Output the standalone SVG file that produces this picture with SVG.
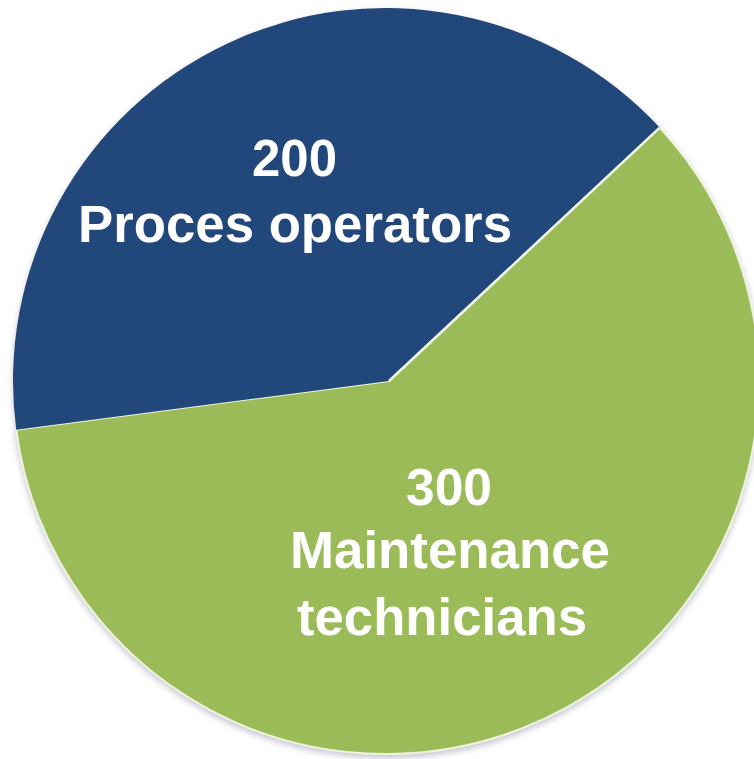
<svg xmlns="http://www.w3.org/2000/svg" width="754" height="759" viewBox="0 0 754 759">
  <defs>
    <filter id="shadow" x="-10%" y="-10%" width="120%" height="120%">
      <feDropShadow dx="0" dy="3" stdDeviation="3" flood-color="#7a7f99" flood-opacity="0.45"/>
    </filter>
  </defs>
  <style>
    .lbl { font-family: "Liberation Sans", Arial, sans-serif; font-weight: bold; font-size: 51px; fill: #ffffff; }
  </style>
  <rect width="754" height="759" fill="#ffffff"/>
  <g id="pie" filter="url(#shadow)">
    <g id="maintenance">
      <path d="M 389 381 L 659.7 127.6 A 373 373 0 1 1 16.2 429.7 Z" fill="#9BBB59" stroke="#eef4dc" stroke-width="2"/>
    </g>
    <g id="operators">
      <path d="M 389 381 L 16.2 429.7 A 373 373 0 0 1 659.7 127.6 Z" fill="#22477A"/>
    </g>
  </g>
  <g id="connectors">
    <line x1="389" y1="381" x2="659.7" y2="127.6" stroke="#f2f6e6" stroke-width="2.5"/>
  </g>
  <g id="labels">
    <text class="lbl" x="252" y="176" textLength="85" lengthAdjust="spacingAndGlyphs">200</text>
    <text class="lbl" x="78" y="242" textLength="434" lengthAdjust="spacingAndGlyphs">Proces operators</text>
    <text class="lbl" x="406" y="505" textLength="86" lengthAdjust="spacingAndGlyphs">300</text>
    <text class="lbl" x="290" y="568" textLength="320" lengthAdjust="spacingAndGlyphs">Maintenance</text>
    <text class="lbl" x="297" y="635" textLength="290" lengthAdjust="spacingAndGlyphs">technicians</text>
  </g>
</svg>
